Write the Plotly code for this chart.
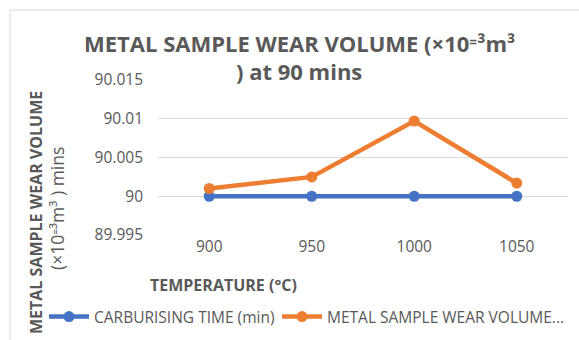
import plotly.graph_objects as go

# Temperatures (categories) and the two measured series
temperatures = ["900", "950", "1000", "1050"]
carburising_time = [90, 90, 90, 90]
wear_volume = [90.001, 90.0025, 90.0097, 90.0017]

y_ticks = [89.995, 90, 90.005, 90.01, 90.015]
y_tick_text = ["89.995", "90", "90.005", "90.01", "90.015"]

FONT = "'Open Sans', sans-serif"
GREY = "#595959"

W, H = 579, 340
L, R, T, B = 158, 11, 80, 105
PW, PH = W - L - R, H - T - B


def px(x):
    return (x - L) / PW


def py(y):
    return (H - B - y) / PH


fig = go.Figure()
fig.add_trace(go.Scatter(
    x=temperatures, y=carburising_time, name="CARBURISING TIME (min)",
    mode="lines+markers", legend="legend",
    line=dict(color="#4472C4", width=4.5),
    marker=dict(size=11, color="#4472C4"),
))
fig.add_trace(go.Scatter(
    x=temperatures, y=wear_volume, name="METAL SAMPLE WEAR VOLUME...",
    mode="lines+markers", legend="legend2",
    line=dict(color="#ED7D31", width=4.5),
    marker=dict(size=11, color="#ED7D31"),
))

annotations = [
    dict(text="<b>METAL SAMPLE WEAR VOLUME (×10⁼³m³</b>", x=px(299), y=py(43),
         font=dict(size=22, color=GREY)),
    dict(text="<b>) at 90 mins</b>", x=px(299), y=py(71),
         font=dict(size=22, color=GREY)),
    dict(text="<b>METAL SAMPLE WEAR VOLUME</b>", x=px(36), y=py(213),
         textangle=-90, font=dict(size=16, color=GREY)),
    dict(text="(×10⁼³m³ ) mins", x=px(57), y=py(209),
         textangle=-90, font=dict(size=17.5, color=GREY)),
    dict(text="<b>TEMPERATURE (°C)</b>", x=px(223), y=py(285),
         font=dict(size=16, color=GREY)),
]
for a in annotations:
    a.update(xref="paper", yref="paper", xanchor="center", yanchor="middle",
             showarrow=False)

legend_style = dict(orientation="h", xref="container", yref="container",
                    xanchor="left", yanchor="middle",
                    font=dict(size=15.5, color=GREY), itemwidth=40,
                    bgcolor="rgba(0,0,0,0)", borderwidth=0)

fig.update_layout(
    width=W, height=H,
    margin=dict(l=L, r=R, t=T, b=B, autoexpand=False),
    paper_bgcolor="white", plot_bgcolor="white",
    font=dict(family=FONT, color=GREY, size=13),
    showlegend=True,
    legend=dict(legend_style, x=44 / W, y=1 - 317 / H),
    legend2=dict(legend_style, x=277 / W, y=1 - 317 / H),
    annotations=annotations,
    shapes=[dict(type="rect", xref="paper", yref="paper",
                 x0=px(10), y0=py(400), x1=px(700), y1=py(10),
                 line=dict(color="#D9D9D9", width=1), layer="below")],
)
fig.update_xaxes(type="category", range=[-0.5, 3.5], showgrid=False,
                 showline=False, ticks="", tickfont=dict(size=15.5, color=GREY),
                 ticklabelstandoff=0)
fig.update_yaxes(range=[89.995, 90.015], tickvals=y_ticks, ticktext=y_tick_text,
                 showgrid=True, gridcolor="#D9D9D9", gridwidth=1,
                 zeroline=False, showline=False, ticks="",
                 tickfont=dict(size=15.5, color=GREY), ticklabelstandoff=14)

fig.write_html("out.html")
